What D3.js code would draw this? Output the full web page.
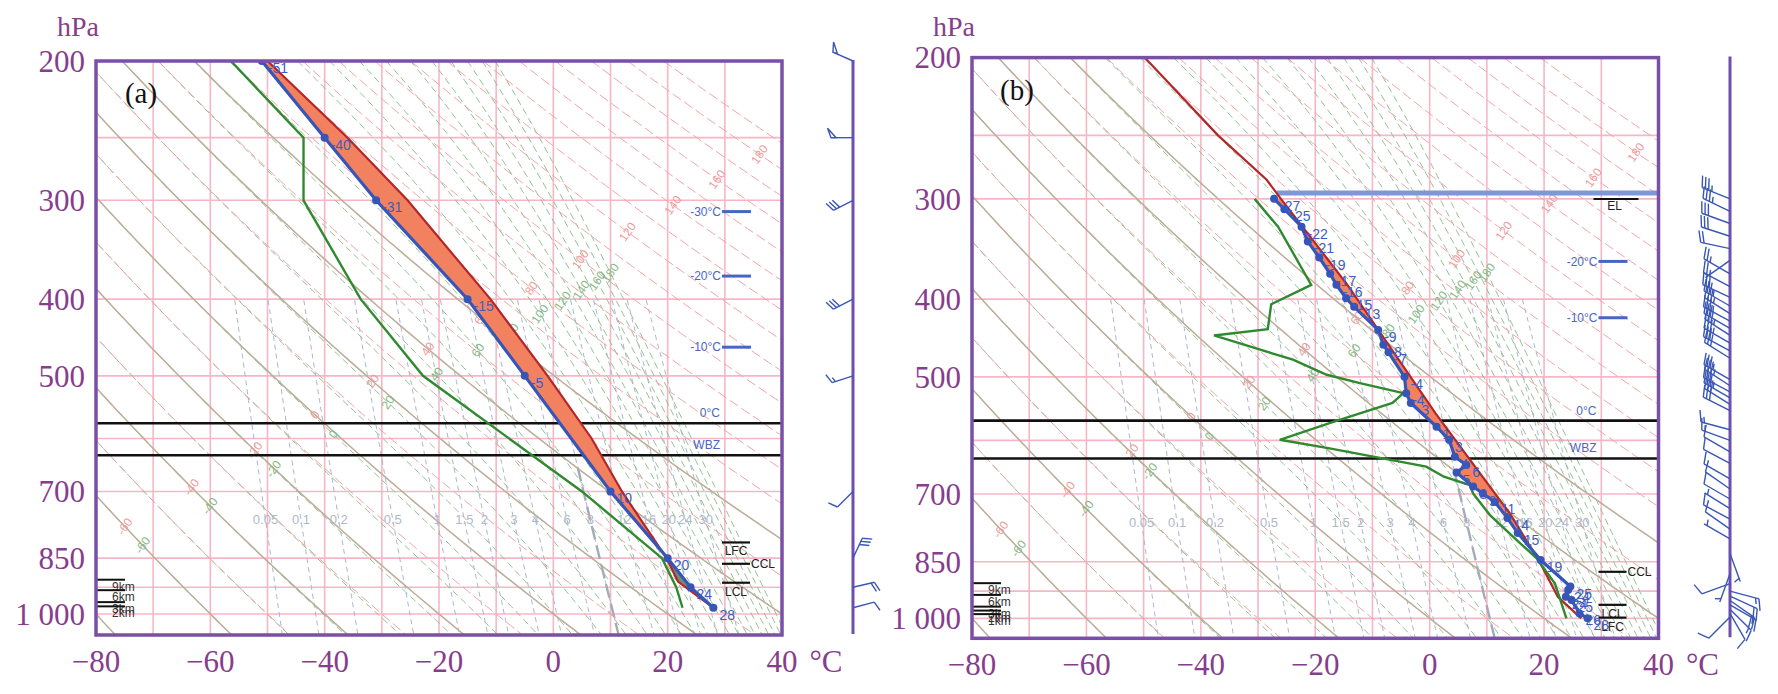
<!DOCTYPE html>
<html>
<head>
<meta charset="utf-8">
<script src="https://cdn.jsdelivr.net/npm/d3@7/dist/d3.min.js"></script>
<style>
  body { margin: 0; background: #fff; }
  svg { display: block; }
</style>
</head>
<body>
<svg id="chart" width="1778" height="694"></svg>
<script>
// =============================================================================
// data
// =============================================================================

// axes ========================================================================
var tempTicks = [-80, -60, -40, -20, 0, 20, 40];
var pressureTicks = [200, 300, 400, 500, 700, 850, 1000];
var pressureTickLabels = ["200", "300", "400", "500", "700", "850", "1 000"];

// background isopleths ========================================================
var isobars = [250, 300, 400, 500, 600, 700, 850, 925, 1000];
var isotherms = [-70, -60, -50, -40, -30, -20, -10, 0, 10, 20, 30];
var dryAdiabats = [-60, -50, -40, -30, -20, -10, 0, 10, 20, 30, 40, 50, 60, 70, 80, 90,
                   100, 110, 120, 130, 140, 150, 160, 170, 180, 190];
var dryAdiabatLabels = [-60, -40, -20, 0, 20, 40, 60, 80, 100, 120, 140, 160, 180];
var brownAdiabats = [-80, -60, -40, -20, 0, 20, 40, 60];
var thetaSeLines = [-60, -50, -40, -30, -20, -10, 0, 10, 20, 30, 40, 50, 60, 70, 80, 90,
                    100, 110, 120, 130, 140, 150, 160, 170, 180];
var thetaSeLabels = [-60, -40, -20, 0, 20, 40, 60, 80, 100, 120, 140, 160, 180];
var mixingRatios = [0.05, 0.1, 0.2, 0.5, 1, 1.5, 2, 3, 4, 6, 8, 12, 16, 20, 24, 30];
var mixingLabels = ["0.05", "0.1", "0.2", "0.5", "1", "1.5", "2", "3", "4", "6", "8", "12", "16", "20", "24", "30"];
var mixingBold = 8;

// panel (a) sounding ==========================================================
var envP_a = [200, 250, 300, 400, 500, 700, 850, 925, 982];
var envT_a = [-51, -40, -31, -15, -5, 10, 20, 24, 28];
var dewP_a = [200, 250, 300, 400, 500, 700, 850, 925, 982];
var dewT_a = [-56.4, -43.7, -43.7, -33.7, -22.8, 5, 19, 21.5, 22.6];
var parcelP_a = [200, 250, 300, 400, 500, 600, 700, 850, 910, 982];
var parcelT_a = [-50, -36, -25.5, -11, -1, 6.7, 12, 19.8, 21.8, 28];
var windP_a = [200, 250, 300, 400, 500, 700, 850, 925, 982];
var windDir_a = [294, 270, 243, 243, 252, 225, 25, 77, 75];
var windSpd_a = [50, 50, 30, 30, 15, 10, 30, 20, 10];
var isoLevelNames_a = ["-30\u00b0C", "-20\u00b0C", "-10\u00b0C"];
var isoLevelP_a = [310, 374, 460];
var freezeP_a = 574, wbzP_a = 630;
var markerNames_a = ["LFC", "CCL", "LCL"];
var markerP_a = [812, 864, 913];
var kmNames_a = ["9km", "6km", "3km", "2km"];
var kmP_a = [905, 933, 966, 978];

// panel (b) sounding ==========================================================
var envP_b = [300, 309, 325, 339, 355, 372, 384, 399, 409, 437, 456, 466, 500, 524, 539, 577,
              599, 629, 644, 658, 685, 699, 716, 750, 783, 846, 913, 922, 940, 949, 986, 1000];
var envT_b = [-27.2, -25.4, -22.4, -21.3, -19.3, -17.4, -16.3, -14.6, -13.2, -9.0, -8.1, -7.2, -4.4, -4.1, -3.3, 1.2,
              3.4, 4.4, 6.4, 4.7, 7.6, 9.3, 11.4, 13.6, 15.4, 19.4, 24.6, 24.2, 23.8, 24.8, 26.2, 27.6];
var dewP_b = [300, 325, 384, 406, 436, 444, 476, 497, 509, 524, 539, 571, 599, 614, 647, 666,
              682, 699, 743, 784, 842, 905, 1000];
var dewT_b = [-30.6, -26.5, -20.7, -27.7, -28.3, -37.7, -23.9, -18, -12.2, -4.6, -6.5, -17.5, -26.2, -17.5, -0.6, 2.5,
              7.0, 7.6, 10.5, 14, 18.7, 21.9, 23.9];
var parcelP_b = [200, 250, 284, 300, 383, 555, 740, 850, 940, 1000];
var parcelT_b = [-49.8, -37, -28.5, -26, -14.5, 1.0, 14, 19.2, 22.4, 26.5];
var windP_b = [300, 311, 322, 334, 346, 358, 372, 386, 398, 408, 417, 426, 435, 444, 454, 464, 474,
               504, 513, 522, 531, 541, 551, 582, 600, 620, 641, 670, 690, 710, 730, 752, 774, 796,
               830, 880, 905, 925, 938, 950, 962, 974, 986, 996];
var windDir_b = [292, 296, 290, 288, 282, 235, 300, 298, 295, 300, 302, 298, 300, 303, 300, 298, 302,
                 300, 303, 298, 300, 302, 297, 285, 290, 300, 298, 300, 305, 300, 302, 298, 305, 300,
                 160, 200, 250, 105, 115, 125, 120, 135, 150, 225];
var windSpd_b = [35, 35, 30, 30, 20, 5, 25, 25, 30, 35, 35, 35, 30, 35, 35, 30, 30,
                 35, 35, 30, 35, 30, 30, 15, 15, 10, 10, 10, 10, 10, 5, 10, 10, 5,
                 5, 5, 10, 15, 20, 20, 15, 15, 10, 10];
var isoLevelNames_b = ["-20\u00b0C", "-10\u00b0C"];
var isoLevelP_b = [359, 422];
var freezeP_b = 567, wbzP_b = 632;
var elP_b = 295;
var markerNames_b = ["CCL", "LCL", "LFC"];
var markerP_b = [875, 962, 998];
var kmNames_b = ["9km", "6km", "3km", "2km", "1km"];
var kmP_b = [904, 935, 967, 978, 988];

// =============================================================================
// globals
// =============================================================================
var PURPLE = "#7a4fa6", LABEL = "#873d8d", BLUE = "#3755b8", GREEN = "#2f8a2f";
var SERIF = "'Liberation Serif', 'Times New Roman', serif";
var SANS = "'Liberation Sans', Arial, sans-serif";

var svg = d3.select("#chart");
var defs = svg.append("defs");

function zip(P, T) {
    return P.map(function (p, i) { return { p: p, t: T[i] }; });
}

// thermodynamics used for the background isopleths
function dryT(theta, p) { return (theta + 273.15) * Math.pow(p / 1000, 0.2857) - 273.15; }
function satVap(t) { return 6.112 * Math.exp(17.67 * t / (t + 243.5)); }
function thetaSe(t, p) {
    var tk = t + 273.15, e = Math.min(satVap(t), 0.5 * p), r = 0.622 * e / (p - e);
    return tk * Math.pow(1000 / p, 0.2857) * Math.exp(2.5e6 * r / (1005 * tk)) - 273.15;
}
function seT(target, p) {
    var lo = -130, hi = 55;
    if (thetaSe(hi, p) < target || thetaSe(lo, p) > target) return null;
    for (var k = 0; k < 45; k++) {
        var mid = (lo + hi) / 2;
        if (thetaSe(mid, p) < target) lo = mid; else hi = mid;
    }
    return (lo + hi) / 2;
}
function mixT(w, p) {
    var l = Math.log(w * p / (622 + w) / 6.112);
    return 243.5 * l / (17.67 - l);
}

// =============================================================================
// panels
// =============================================================================
var panels = [
    { id: "a", letter: "(a)", left: 96, right: 782, top: 61, bottom: 635, pBottom: 1063,
      barbX: 853, barbLen: 22, featherLen: 10,
      env: zip(envP_a, envT_a), dew: zip(dewP_a, dewT_a), parcel: zip(parcelP_a, parcelT_a),
      wind: windP_a.map(function (p, i) { return { p: p, dir: windDir_a[i], spd: windSpd_a[i] }; }),
      cape: [200, 850], cin: [850, 982],
      isoNames: isoLevelNames_a, isoP: isoLevelP_a, freezeP: freezeP_a, wbzP: wbzP_a, elP: null,
      markerNames: markerNames_a, markerP: markerP_a, kmNames: kmNames_a, kmP: kmP_a },
    { id: "b", letter: "(b)", left: 972, right: 1658.5, top: 57.6, bottom: 638.3, pBottom: 1059,
      barbX: 1730, barbLen: 30, featherLen: 12,
      env: zip(envP_b, envT_b), dew: zip(dewP_b, dewT_b), parcel: zip(parcelP_b, parcelT_b),
      wind: windP_b.map(function (p, i) { return { p: p, dir: windDir_b[i], spd: windSpd_b[i] }; }),
      cape: [300, 850], cin: null,
      isoNames: isoLevelNames_b, isoP: isoLevelP_b, freezeP: freezeP_b, wbzP: wbzP_b, elP: elP_b,
      markerNames: markerNames_b, markerP: markerP_b, kmNames: kmNames_b, kmP: kmP_b }
];

panels.forEach(drawPanel);

function drawPanel(c) {

    var x = d3.scaleLinear().domain([-80, 40]).range([c.left, c.right]);
    var y = d3.scaleLog().domain([200, c.pBottom]).range([c.top, c.bottom]);
    var line = d3.line().x(function (d) { return x(d.t); }).y(function (d) { return y(d.p); });
    var pS = d3.range(0, 121).map(function (i) { return 200 * Math.pow(c.pBottom / 200, i / 120); });

    defs.append("clipPath").attr("id", "clip-" + c.id).append("rect")
        .attr("x", c.left).attr("y", c.top)
        .attr("width", c.right - c.left).attr("height", c.bottom - c.top);

    var panel = svg.append("g").attr("class", "panel-" + c.id);
    var grid = panel.append("g").attr("clip-path", "url(#clip-" + c.id + ")");

    // pink isotherms and isobars
    grid.selectAll("line.isotherm").data(isotherms).enter().append("line")
        .attr("x1", function (d) { return x(d); }).attr("x2", function (d) { return x(d); })
        .attr("y1", c.top).attr("y2", c.bottom)
        .attr("stroke", "#f7b6c6").attr("stroke-width", 1.6);
    grid.selectAll("line.isobar").data(isobars).enter().append("line")
        .attr("x1", c.left).attr("x2", c.right)
        .attr("y1", function (d) { return y(d); }).attr("y2", function (d) { return y(d); })
        .attr("stroke", "#f7b6c6").attr("stroke-width", 1.6);

    // mixing ratio lines
    var mixP = pS.filter(function (p) { return p >= 400; });
    mixingRatios.forEach(function (w) {
        grid.append("path")
            .attr("d", line(mixP.map(function (p) { return { p: p, t: mixT(w, p) }; })))
            .attr("fill", "none").attr("stroke", "#aab6ca").attr("stroke-width", 1)
            .attr("stroke-dasharray", "5,4");
    });
    grid.append("path")
        .attr("d", line(pS.filter(function (p) { return p >= 650; })
            .map(function (p) { return { p: p, t: mixT(mixingBold, p) }; })))
        .attr("fill", "none").attr("stroke", "#a3abbb").attr("stroke-width", 2.4)
        .attr("stroke-dasharray", "14,6");

    // pseudo-equivalent potential temperature lines
    var seCurves = {};
    thetaSeLines.forEach(function (th) {
        var pts = [];
        pS.forEach(function (p) { var t = seT(th, p); if (t !== null) pts.push({ p: p, t: t }); });
        seCurves[th] = pts;
        grid.append("path").attr("d", line(pts))
            .attr("fill", "none").attr("stroke", "#93c193").attr("stroke-width", 1)
            .attr("stroke-dasharray", "7,4");
    });

    // dry adiabats
    dryAdiabats.forEach(function (th) {
        grid.append("path")
            .attr("d", line(pS.map(function (p) { return { p: p, t: dryT(th, p) }; })))
            .attr("fill", "none").attr("stroke", "#f2a3a8").attr("stroke-width", 1)
            .attr("stroke-dasharray", "10,4");
    });
    brownAdiabats.forEach(function (th) {
        grid.append("path")
            .attr("d", line(pS.map(function (p) { return { p: p, t: dryT(th, p) }; })))
            .attr("fill", "none").attr("stroke", "#bcae9a").attr("stroke-width", 1.5);
    });

    // labels placed where each isopleth crosses a diagonal guide
    function crossGuide(pts, g1, g2) {
        var ax = x(g1.t), ay = y(g1.p), bx = x(g2.t), by = y(g2.p);
        function side(d) { return (bx - ax) * (y(d.p) - ay) - (by - ay) * (x(d.t) - ax); }
        for (var i = 1; i < pts.length; i++) {
            var s0 = side(pts[i - 1]), s1 = side(pts[i]);
            if (s0 === 0 || s0 * s1 < 0) {
                var f = s0 / (s0 - s1);
                return { x: x(pts[i - 1].t) + f * (x(pts[i].t) - x(pts[i - 1].t)),
                         y: y(pts[i - 1].p) + f * (y(pts[i].p) - y(pts[i - 1].p)) };
            }
        }
        return null;
    }
    function inside(pt) { return pt && pt.x > c.left + 4 && pt.x < c.right - 4 && pt.y > c.top + 4 && pt.y < c.bottom - 4; }

    dryAdiabatLabels.forEach(function (th) {
        var pt = crossGuide(pS.map(function (p) { return { p: p, t: dryT(th, p) }; }),
            { t: -74.6, p: 772 }, { t: 37, p: 260 });
        if (!inside(pt)) return;
        grid.append("text").attr("transform", "translate(" + pt.x + "," + pt.y + ") rotate(-55)")
            .attr("text-anchor", "middle").attr("dy", "0.35em")
            .attr("font-family", SANS).attr("font-size", 12).attr("fill", "#ef9a9a").text(th);
    });
    thetaSeLabels.forEach(function (th) {
        var pt = crossGuide(seCurves[th], { t: -71.2, p: 813 }, { t: 3.9, p: 393 });
        if (!inside(pt)) return;
        grid.append("text").attr("transform", "translate(" + pt.x + "," + pt.y + ") rotate(-55)")
            .attr("text-anchor", "middle").attr("dy", "0.35em")
            .attr("font-family", SANS).attr("font-size", 12).attr("fill", "#84b884").text(th);
    });
    mixingRatios.forEach(function (w, i) {
        grid.append("text").attr("x", x(mixT(w, 760))).attr("y", y(760)).attr("dy", "0.35em")
            .attr("text-anchor", "middle").attr("font-family", SANS).attr("font-size", 13)
            .attr("fill", "#b0b9c9").text(mixingLabels[i]);
    });

    // freezing level and wet bulb zero
    [c.freezeP, c.wbzP].forEach(function (p, i) {
        panel.append("line").attr("x1", c.left).attr("x2", c.right)
            .attr("y1", y(p)).attr("y2", y(p)).attr("stroke", "#111").attr("stroke-width", 2.6);
        panel.append("text").attr("x", c.right - 62).attr("y", y(p) - 6)
            .attr("text-anchor", "end").attr("font-family", SANS).attr("font-size", 12)
            .attr("fill", "#4a66c4").text(i === 0 ? "0\u00b0C" : "WBZ");
    });

    // isotherm heights
    c.isoP.forEach(function (p, i) {
        panel.append("line").attr("x1", c.right - 60).attr("x2", c.right - 31)
            .attr("y1", y(p)).attr("y2", y(p)).attr("stroke", "#4566c2").attr("stroke-width", 3);
        panel.append("text").attr("x", c.right - 61).attr("y", y(p)).attr("dy", "0.35em")
            .attr("text-anchor", "end").attr("font-family", SANS).attr("font-size", 12)
            .attr("fill", "#4a66c4").text(c.isoNames[i]);
    });

    // equilibrium level
    if (c.elP) {
        var elStart = d3.scaleLog().domain([284, 300]).range([-28.5, -26])(c.elP);
        panel.append("line").attr("x1", x(elStart)).attr("x2", c.right)
            .attr("y1", y(c.elP)).attr("y2", y(c.elP))
            .attr("stroke", "#8196d8").attr("stroke-width", 5);
        panel.append("line").attr("x1", c.right - 65).attr("x2", c.right - 20)
            .attr("y1", y(c.elP) + 6).attr("y2", y(c.elP) + 6)
            .attr("stroke", "#111").attr("stroke-width", 2);
        panel.append("text").attr("x", c.right - 44).attr("y", y(c.elP) + 17)
            .attr("text-anchor", "middle").attr("font-family", SANS).attr("font-size", 12)
            .attr("fill", "#222").text("EL");
    }

    // LFC / CCL / LCL
    c.markerP.forEach(function (p, i) {
        var name = c.markerNames[i];
        panel.append("line").attr("x1", c.right - 60).attr("x2", c.right - 32)
            .attr("y1", y(p)).attr("y2", y(p)).attr("stroke", "#111").attr("stroke-width", 2.2);
        var t = panel.append("text").attr("font-family", SANS).attr("font-size", 12).attr("fill", "#222").text(name);
        if (name === "CCL") t.attr("x", c.right - 31).attr("y", y(p)).attr("dy", "0.35em");
        else t.attr("x", c.right - 46).attr("y", y(p) + 13).attr("text-anchor", "middle");
    });

    // height marks on the left
    c.kmP.forEach(function (p, i) {
        panel.append("line").attr("x1", c.left).attr("x2", c.left + 29)
            .attr("y1", y(p)).attr("y2", y(p)).attr("stroke", "#111").attr("stroke-width", 2);
        panel.append("text").attr("x", c.left + 16).attr("y", y(p) + 11)
            .attr("font-family", SANS).attr("font-size", 12).attr("fill", "#333").text(c.kmNames[i]);
    });

    // CAPE and CIN areas
    function between(arr, r) { return arr.filter(function (d) { return d.p >= r[0] && d.p <= r[1]; }); }
    var sounding = panel.append("g").attr("clip-path", "url(#clip-" + c.id + ")");
    sounding.append("path")
        .attr("d", line(between(c.parcel, c.cape).concat(between(c.env, c.cape).reverse())) + "Z")
        .attr("fill", "#f2825f").attr("stroke", "none");
    if (c.cin) {
        sounding.append("path")
            .attr("d", line(between(c.parcel, c.cin).concat(between(c.env, c.cin).reverse())) + "Z")
            .attr("fill", "#6f8f74").attr("stroke", "none");
    }

    sounding.append("path").attr("d", line(c.parcel))
        .attr("fill", "none").attr("stroke", "#b3262a").attr("stroke-width", 2.2);
    sounding.append("path").attr("d", line(c.dew))
        .attr("fill", "none").attr("stroke", GREEN).attr("stroke-width", 2.4);
    sounding.append("path").attr("d", line(c.env))
        .attr("fill", "none").attr("stroke", BLUE).attr("stroke-width", 3.2);
    sounding.selectAll("circle").data(c.env).enter().append("circle")
        .attr("cx", function (d) { return x(d.t); }).attr("cy", function (d) { return y(d.p); })
        .attr("r", 4).attr("fill", BLUE);
    sounding.selectAll("text.val").data(c.env).enter().append("text")
        .attr("x", function (d) { return x(d.t) + 6; }).attr("y", function (d) { return y(d.p) + 12; })
        .attr("font-family", SANS).attr("font-size", 14).attr("fill", "#3f5cc0")
        .text(function (d) { return Math.round(d.t); });

    // frame
    panel.append("rect").attr("x", c.left).attr("y", c.top)
        .attr("width", c.right - c.left).attr("height", c.bottom - c.top)
        .attr("fill", "none").attr("stroke", PURPLE).attr("stroke-width", 3.5);

    // axis labels
    panel.selectAll("text.xt").data(tempTicks).enter().append("text")
        .attr("x", function (d) { return x(d); }).attr("y", c.bottom + 37)
        .attr("text-anchor", "middle").attr("font-family", SERIF).attr("font-size", 31)
        .attr("fill", LABEL).text(function (d) { return d < 0 ? "\u2212" + (-d) : d; });
    panel.append("text").attr("x", c.right + 44).attr("y", c.bottom + 37)
        .attr("text-anchor", "middle").attr("font-family", SERIF).attr("font-size", 31)
        .attr("fill", LABEL).text("\u00b0C");
    panel.selectAll("text.yt").data(pressureTicks).enter().append("text")
        .attr("x", c.left - 11).attr("y", function (d) { return y(d); }).attr("dy", "0.35em")
        .attr("text-anchor", "end").attr("font-family", SERIF).attr("font-size", 31)
        .attr("fill", LABEL).text(function (d, i) { return pressureTickLabels[i]; });
    panel.append("text").attr("x", c.left - 18).attr("y", 36)
        .attr("text-anchor", "middle").attr("font-family", SERIF).attr("font-size", 28)
        .attr("fill", LABEL).text("hPa");
    panel.append("text").attr("x", c.left + 45).attr("y", c.top + 42)
        .attr("text-anchor", "middle").attr("font-family", SERIF).attr("font-size", 29)
        .attr("fill", "#111").text(c.letter);

    // wind barbs
    var barbs = svg.append("g");
    barbs.append("line").attr("x1", c.barbX).attr("x2", c.barbX)
        .attr("y1", c.top - 1).attr("y2", c.bottom - 1)
        .attr("stroke", "#6d4fb0").attr("stroke-width", 3);
    c.wind.forEach(function (w) { drawBarb(barbs, c.barbX, y(w.p), w.dir, w.spd, c.barbLen, c.featherLen); });
}

function drawBarb(g, bx, by, dir, spd, L, fl) {
    var r = dir * Math.PI / 180, a = 70 * Math.PI / 180;
    var ux = Math.sin(r), uy = -Math.cos(r);
    var fx = ux * Math.cos(a) - uy * Math.sin(a), fy = ux * Math.sin(a) + uy * Math.cos(a);
    var tx = bx + ux * L, ty = by + uy * L;
    var col = "#3a57b4";
    g.append("line").attr("x1", bx).attr("y1", by).attr("x2", tx).attr("y2", ty)
        .attr("stroke", col).attr("stroke-width", 1.4);
    var s = spd, pos = 0, step = 3.5;
    while (s >= 50) {
        var p0x = tx - ux * pos, p0y = ty - uy * pos;
        g.append("path")
            .attr("d", "M" + p0x + "," + p0y + "L" + (p0x + fx * fl) + "," + (p0y + fy * fl) +
                "L" + (tx - ux * (pos + 5)) + "," + (ty - uy * (pos + 5)) + "Z")
            .attr("fill", "none").attr("stroke", col).attr("stroke-width", 1.4);
        pos += 6; s -= 50;
    }
    while (s >= 10) {
        g.append("line").attr("x1", tx - ux * pos).attr("y1", ty - uy * pos)
            .attr("x2", tx - ux * pos + fx * fl).attr("y2", ty - uy * pos + fy * fl)
            .attr("stroke", col).attr("stroke-width", 1.4);
        pos += step; s -= 10;
    }
    if (s >= 5) {
        if (pos === 0) pos = step;
        g.append("line").attr("x1", tx - ux * pos).attr("y1", ty - uy * pos)
            .attr("x2", tx - ux * pos + fx * fl / 2).attr("y2", ty - uy * pos + fy * fl / 2)
            .attr("stroke", col).attr("stroke-width", 1.4);
    }
}
</script>
</body>
</html>
